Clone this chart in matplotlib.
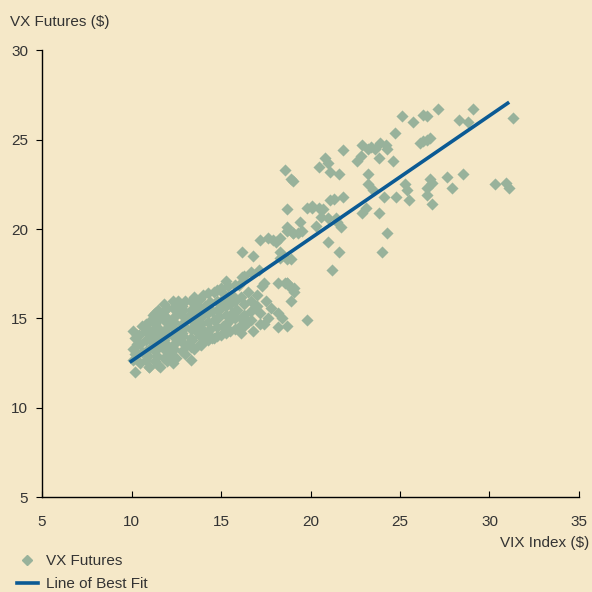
import matplotlib
matplotlib.use("Agg")
import matplotlib.pyplot as plt
from matplotlib.lines import Line2D

# VIX index vs VX futures
vix = [
    # dense cluster
    10.1, 10.1, 10.2, 10.1, 10.2,
    10.5, 10.6, 10.5, 10.4, 10.6,
    11.0, 10.9, 11.1, 11.0, 10.9, 11.1, 11.2,
    11.5, 11.4, 11.6, 11.5, 11.4, 11.6, 11.5,
    12.0, 12.1, 11.9, 12.0, 12.1, 11.9, 12.0,
    12.5, 12.4, 12.6, 12.5, 12.4, 12.6, 12.5, 12.6,
    13.0, 13.1, 12.9, 13.0, 13.1, 12.9, 13.0,
    13.5, 13.4, 13.6, 13.5, 13.4, 13.6, 13.5,
    14.0, 14.1, 13.9, 14.0, 14.1, 14.0,
    14.5, 14.4, 14.6, 14.5, 14.4, 14.6,
    15.0, 15.1, 14.9, 15.0, 15.1, 15.0,
    15.5, 15.4, 15.6, 15.5, 15.6, 15.4,
    16.0, 16.1, 15.9, 16.1,
    10.2, 11.0, 11.6, 12.3, 13.3, 13.9, 14.6,
    # cluster fill
    10.3, 10.3, 10.3,
    10.8, 10.8, 10.8, 10.8, 10.8,
    11.3, 11.3, 11.3, 11.3, 11.3, 11.3,
    11.8, 11.8, 11.8, 11.8, 11.8, 11.8, 11.8,
    12.3, 12.3, 12.3, 12.3, 12.3, 12.3, 12.3,
    12.8, 12.8, 12.8, 12.8, 12.8, 12.8,
    13.3, 13.3, 13.3, 13.3, 13.3, 13.3,
    13.8, 13.8, 13.8, 13.8, 13.8, 13.8,
    14.3, 14.3, 14.3, 14.3, 14.3, 14.3,
    14.8, 14.8, 14.8, 14.8, 14.8, 14.8,
    15.3, 15.3, 15.3, 15.3, 15.3,
    15.8, 15.8, 15.8, 15.8,
    16.3, 16.3, 16.3, 16.7, 16.7, 16.7, 17.2, 17.2,
    17.0, 17.5, 17.8, 18.2, 17.6, 17.0, 16.5, 17.3, 16.0, 16.3,
    # middle
    15.3, 16.2, 15.8, 16.7, 17.1, 15.1, 15.6, 15.7, 17.4, 18.2, 18.7,
    19.1, 18.9, 19.8, 18.4, 18.7, 18.2, 17.4, 16.8, 16.1, 16.5,
    16.2, 16.8, 18.3, 18.7, 17.9, 17.6, 17.2, 18.1, 18.7, 19.0, 19.3, 19.5, 18.3,
    18.6, 18.9, 19.0, 20.1, 20.7, 21.0, 21.5,
    # upper part
    25.1, 25.7, 26.3, 26.5, 27.1, 28.3, 28.8, 29.1, 31.3, 24.7,
    26.1, 26.3, 26.5, 26.7, 21.8,
    22.9, 23.2, 23.4, 23.6, 23.9, 24.2, 24.3, 22.8, 22.6, 23.8, 24.6,
    20.8, 20.5, 21.0, 21.1, 21.6, 18.6, 18.9, 23.2, 23.2, 23.5,
    25.3, 25.4, 26.7, 26.5, 26.8, 26.5, 27.6, 28.5, 27.9, 26.8,
    30.3, 30.9, 31.1, 24.8, 25.5, 24.1, 23.1, 22.9, 23.8, 24.3,
    21.6, 24.0, 21.2, 21.0, 21.7, 20.1, 19.8, 20.5, 21.1, 21.3, 21.8,
    18.7, 18.7, 19.0, 19.4, 20.3, 20.6, 21.4, 18.3, 18.9, 18.7, 19.1,
]
vx = [
    # dense cluster
    12.7, 13.3, 13.9, 14.3, 13.0,
    12.5, 13.1, 13.6, 14.1, 14.6,
    12.3, 12.9, 13.4, 13.9, 14.4, 14.9, 15.2,
    12.4, 12.9, 13.5, 14.0, 14.5, 15.0, 15.5,
    12.6, 13.1, 13.6, 14.1, 14.6, 15.1, 15.6,
    12.8, 13.3, 13.8, 14.3, 14.8, 15.3, 15.8, 16.0,
    13.0, 13.5, 14.0, 14.5, 15.0, 15.5, 16.0,
    13.3, 13.8, 14.3, 14.8, 15.3, 15.8, 16.2,
    13.7, 14.2, 14.7, 15.2, 15.7, 16.3,
    13.9, 14.4, 14.9, 15.4, 15.9, 16.5,
    14.1, 14.6, 15.1, 15.6, 16.1, 16.7,
    14.3, 14.8, 15.3, 15.8, 16.3, 16.8,
    14.5, 15.0, 15.5, 16.2,
    12.0, 12.3, 12.3, 12.5, 12.7, 13.5, 13.9,
    # cluster fill
    13.0, 13.6, 14.1,
    12.7, 13.2, 13.8, 14.3, 14.7,
    12.6, 13.2, 13.7, 14.2, 14.7, 15.3,
    12.8, 13.3, 13.8, 14.3, 14.9, 15.4, 15.8,
    12.9, 13.5, 14.0, 14.5, 15.0, 15.6, 16.0,
    13.2, 13.7, 14.2, 14.7, 15.2, 15.7,
    13.4, 13.9, 14.4, 14.9, 15.5, 16.0,
    13.6, 14.0, 14.5, 15.0, 15.5, 16.1,
    13.8, 14.3, 14.8, 15.3, 15.8, 16.4,
    14.0, 14.5, 15.0, 15.5, 16.0, 16.6,
    14.2, 14.7, 15.2, 15.7, 16.2,
    14.4, 15.0, 15.4, 16.0,
    14.6, 15.2, 15.8, 14.9, 15.4, 16.0, 14.7, 15.3,
    16.3, 16.0, 15.6, 15.3, 15.0, 15.7, 16.5, 16.8, 16.9, 17.4,
    # middle
    17.1, 17.3, 16.9, 17.6, 17.7, 16.4, 15.9, 15.1, 17.0, 17.0, 17.0,
    16.5, 16.0, 14.9, 15.0, 14.6, 14.5, 14.7, 14.3, 14.2, 14.8,
    18.7, 18.5, 18.4, 18.3, 19.4, 19.5, 19.4, 19.3, 19.9, 19.8, 19.8, 19.9, 19.5,
    17.0, 16.7, 22.7, 21.3, 21.1, 20.6, 20.4,
    # upper part
    26.3, 26.0, 26.4, 26.3, 26.7, 26.1, 26.0, 26.7, 26.2, 25.4,
    24.8, 24.9, 25.0, 25.1, 24.4,
    24.7, 24.5, 24.6, 24.5, 24.8, 24.7, 24.5, 24.1, 23.8, 24.0, 23.8,
    24.0, 23.5, 23.7, 23.2, 23.1, 23.3, 22.8, 23.1, 22.5, 22.2,
    22.5, 22.2, 22.8, 22.3, 22.6, 21.9, 22.9, 23.1, 22.3, 21.4,
    22.5, 22.6, 22.3, 21.8, 21.6, 21.8, 21.2, 20.9, 20.9, 19.8,
    18.7, 18.7, 17.7, 19.3, 20.1, 21.2, 21.2, 21.2, 21.6, 21.7, 21.8,
    21.1, 20.1, 19.8, 20.4, 20.2, 20.7, 20.6, 18.7, 18.3, 17.0, 16.7,
]

fit_x = [9.9, 31.1]
fit_y = [12.55, 27.1]

bg = "#F5E8C8"
dot_color = "#98B29B"
line_color = "#0B5A94"
text_color = "#333333"

plt.rcParams["font.family"] = ["Liberation Sans Narrow", "Liberation Sans", "DejaVu Sans"]

fig = plt.figure(figsize=(5.92, 5.92), dpi=100, facecolor=bg)
ax = fig.add_axes([0.071, 0.16, 0.907, 0.755])
ax.set_facecolor(bg)

ax.scatter(vix, vx, marker="D", s=38, color=dot_color, linewidths=0, zorder=2)
ax.plot(fit_x, fit_y, color=line_color, lw=2.6, solid_capstyle="butt", zorder=3)

ax.set_xlim(5, 35)
ax.set_ylim(5, 30)
ax.set_xticks(range(5, 36, 5))
ax.set_yticks(range(5, 31, 5))

for side in ["top", "right"]:
    ax.spines[side].set_visible(False)
for side in ["left", "bottom"]:
    ax.spines[side].set_linewidth(1.0)
    ax.spines[side].set_color("black")

ax.tick_params(axis="x", direction="in", length=4, pad=13, labelsize=11, labelcolor=text_color)
ax.tick_params(axis="y", direction="out", length=4, pad=6, labelsize=11, labelcolor=text_color)

fig.text(10 / 592, 1 - 22 / 592, "VX Futures ($)", fontsize=11, color=text_color, va="center", ha="left")
fig.text(589 / 592, 1 - 543 / 592, "VIX Index ($)", fontsize=11, color=text_color, va="center", ha="right")

handles = [
    Line2D([], [], marker="D", ls="none", color=dot_color, markersize=5),
    Line2D([], [], color=line_color, lw=2.6),
]
fig.legend(handles, ["VX Futures", "Line of Best Fit"], loc="lower left",
           bbox_to_anchor=(0.005, -0.022), frameon=False, fontsize=11,
           labelcolor=text_color, handlelength=1.4, handletextpad=0.5,
           labelspacing=0.6)

fig.savefig("out.png", dpi=100, facecolor=bg)
